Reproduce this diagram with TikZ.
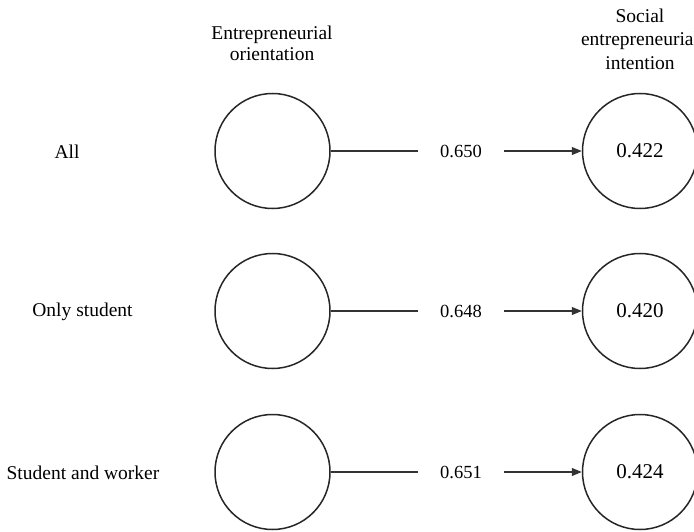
\documentclass[tikz,border=0pt]{standalone}
\usepackage{fontspec}
\setmainfont{Liberation Serif}
\usetikzlibrary{arrows.meta}
\tikzset{
  latent/.style={circle, draw=black!85, line width=1.5pt, minimum size=115pt, inner sep=0pt, font=\rmfamily\fontsize{21}{24}\selectfont},
  coef/.style={inner xsep=22pt, inner ysep=2pt, font=\rmfamily\fontsize{18.5}{21}\selectfont},
  grp/.style={font=\rmfamily\fontsize{19.5}{22}\selectfont},
  link/.style={draw=black!80, line width=1.1pt},
  tip/.style={-{Triangle[length=10pt,width=8pt]}}
}
\begin{document}
\begin{tikzpicture}[x=1pt,y=-1pt]
\useasboundingbox (0,0) rectangle (694,532);
\clip (0,0) rectangle (694,532);
\node[align=center, font=\rmfamily\fontsize{19.5}{21}\selectfont] (t1) at (272,43) {Entrepreneurial\\orientation};
\node[align=center, font=\rmfamily\fontsize{19.5}{23.5}\selectfont] (t2) at (640,39) {Social\\entrepreneurial\\intention};
% rows
\node[grp] (g1) at (67,152) {All};
\node[grp] (g2) at (82.5,312) {Only student};
\node[grp] (g3) at (83,473) {Student and worker};
\node[latent] (eo1) at (272.5,151) {};
\node[latent] (eo2) at (272.5,311) {};
\node[latent] (eo3) at (272.5,472) {};
\node[latent] (sei1) at (640,151) {0.422};
\node[latent] (sei2) at (640,311) {0.420};
\node[latent] (sei3) at (640,472) {0.424};
\node[coef] (c1) at (461,151) {0.650};
\node[coef] (c2) at (461,311) {0.648};
\node[coef] (c3) at (461,472) {0.651};
\foreach \i in {1,2,3}{
  \draw[link] (eo\i.east) -- (c\i.west);
  \draw[link,tip] (c\i.east) -- (sei\i.west);
}
\end{tikzpicture}
\end{document}
